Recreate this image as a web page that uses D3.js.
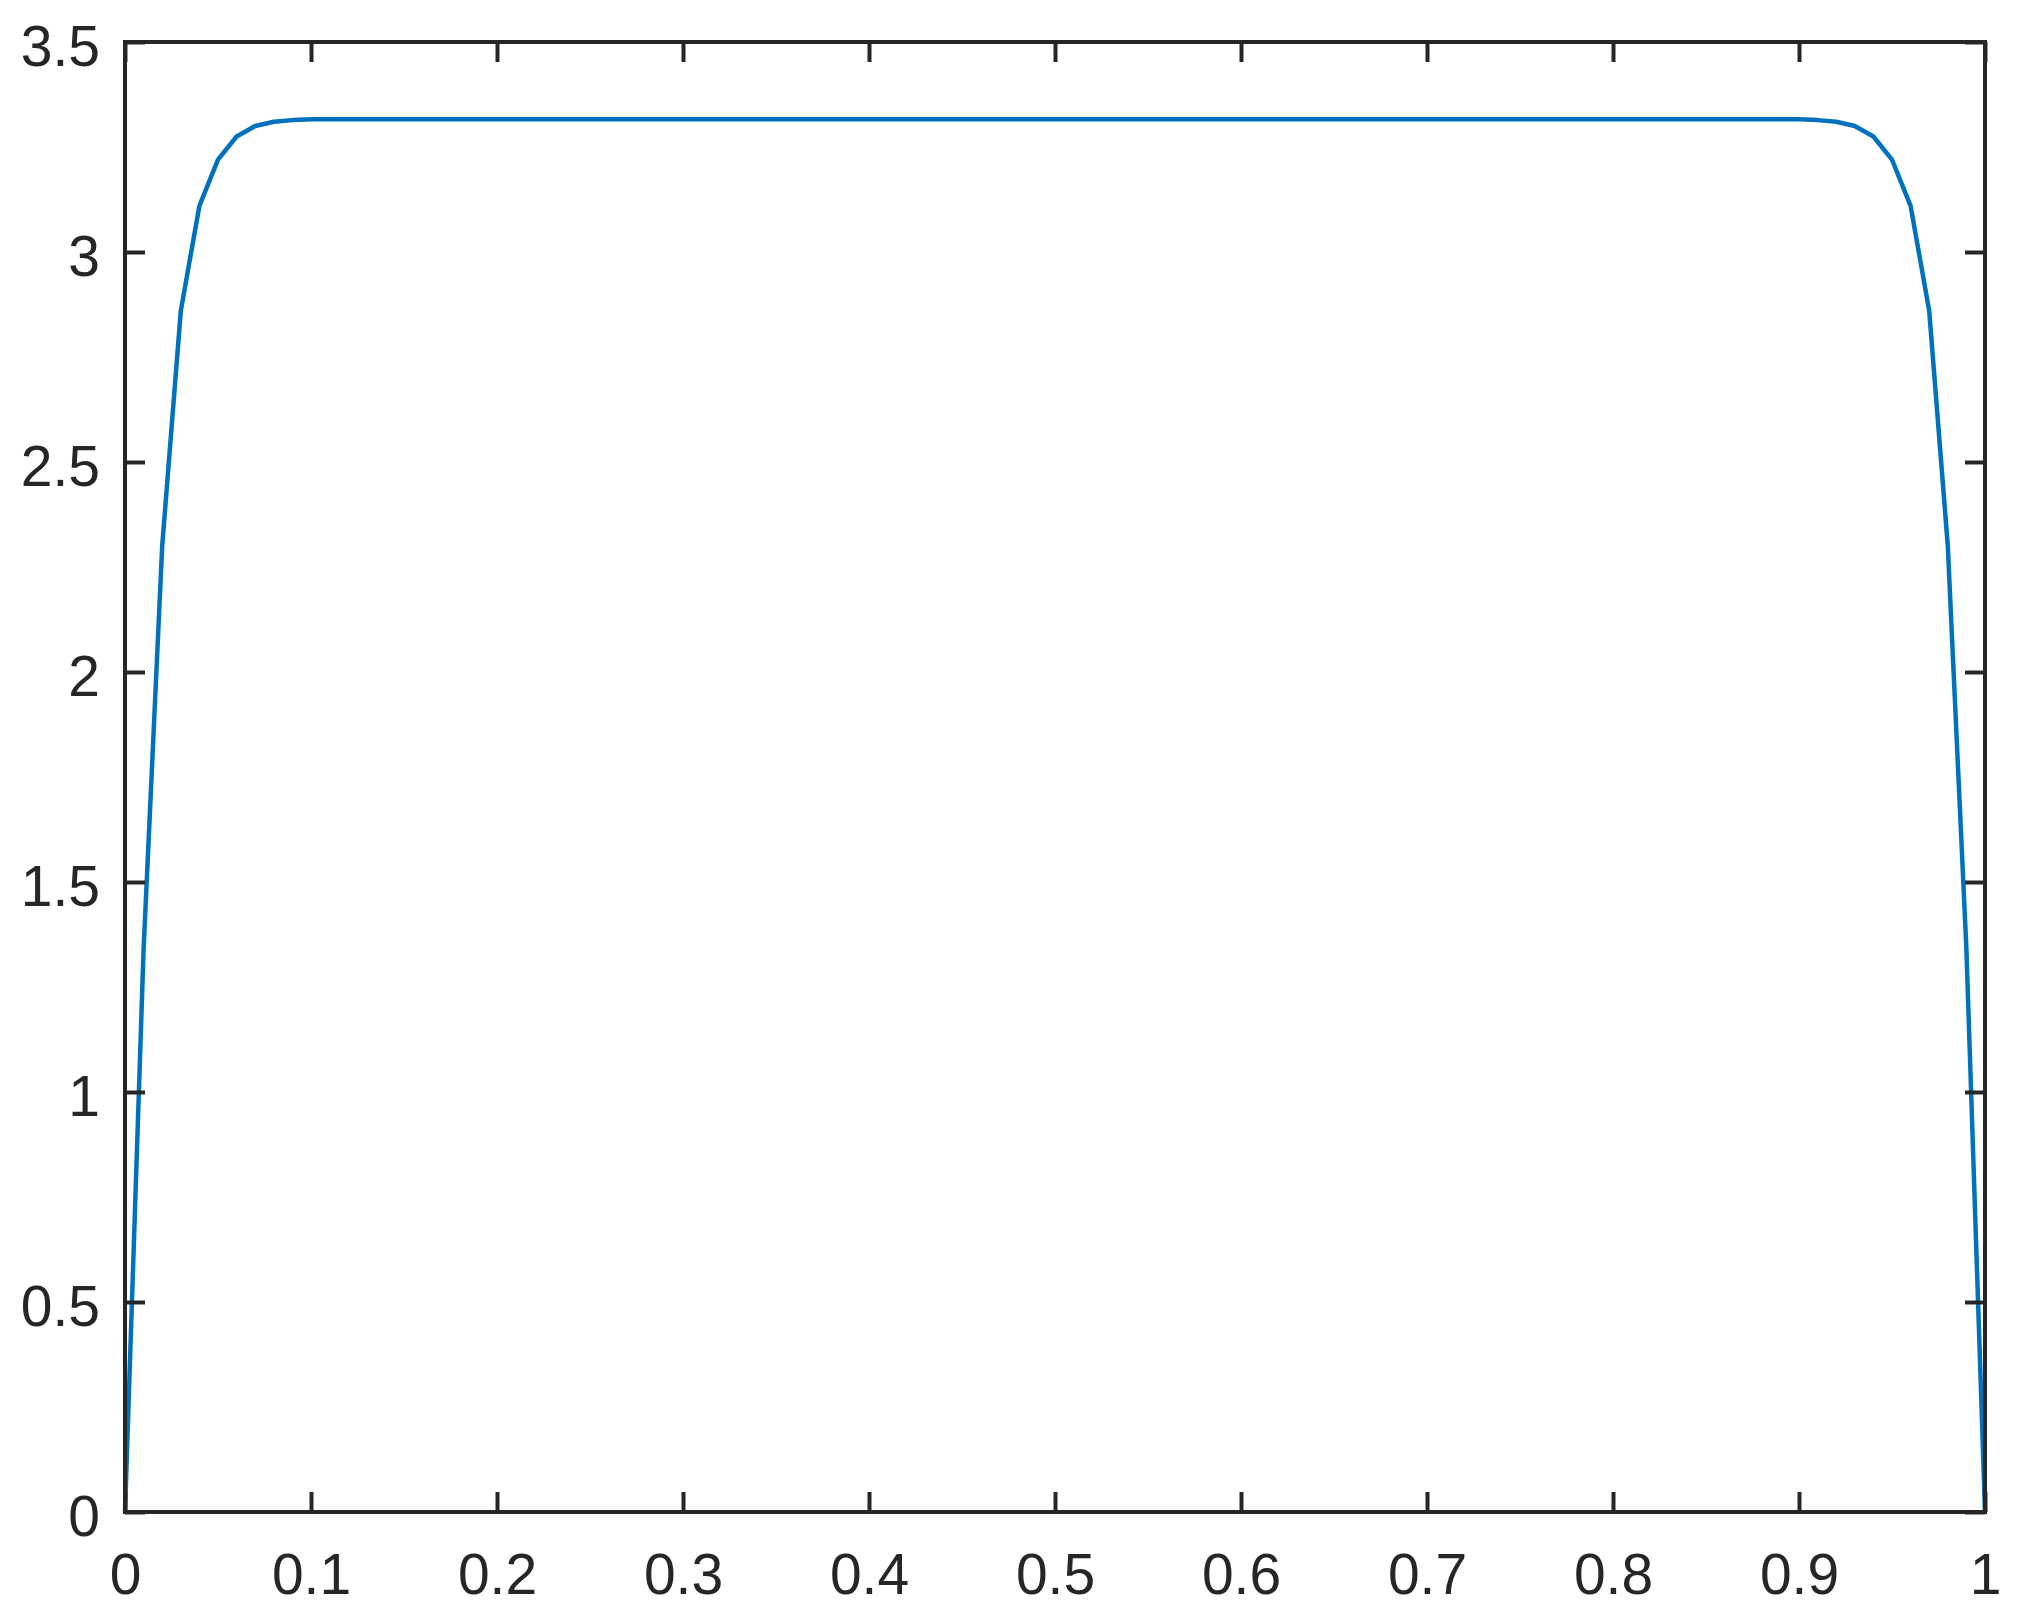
<!DOCTYPE html>
<meta charset="utf-8">
<style>
body { margin: 0; background: #fff; }
.axis text { font-family: "Liberation Sans", Arial, sans-serif; font-size: 57px; fill: #262626; }
.axis line { stroke: #262626; stroke-width: 4px; }
.axis path { display: none; }
.frame { fill: none; stroke: #262626; stroke-width: 4px; }
.curve { fill: none; stroke: #0072bd; stroke-width: 4.5px; stroke-linejoin: round; }
</style>
<svg width="2019" height="1619"></svg>
<script src="https://cdn.jsdelivr.net/npm/d3@7"></script>
<script>

// sample points (plateau between 0.1 and 0.9 is flat)
var xValues = [0, 0.01, 0.02, 0.03, 0.04, 0.05, 0.06, 0.07, 0.08, 0.09, 0.10,
               0.90, 0.91, 0.92, 0.93, 0.94, 0.95, 0.96, 0.97, 0.98, 0.99, 1];
var yValues = [0, 1.34, 2.30, 2.86, 3.11, 3.22, 3.275, 3.30, 3.31, 3.314, 3.316,
               3.316, 3.314, 3.31, 3.30, 3.275, 3.22, 3.11, 2.86, 2.30, 1.34, 0];

var xTicks = [0, 0.1, 0.2, 0.3, 0.4, 0.5, 0.6, 0.7, 0.8, 0.9, 1];
var yTicks = [0, 0.5, 1, 1.5, 2, 2.5, 3, 3.5];

var svg = d3.select("svg"),
    margin = {top: 42, right: 34, bottom: 107, left: 125},
    width = +svg.attr("width") - margin.left - margin.right,
    height = +svg.attr("height") - margin.top - margin.bottom;

var x = d3.scaleLinear().domain([0, 1]).range([0, width]),
    y = d3.scaleLinear().domain([0, 3.5]).range([height, 0]);

var fmt = d3.format("~g");

var g = svg.append("g")
    .attr("transform", "translate(" + margin.left + "," + margin.top + ")");

var data = xValues.map(function(d, i) { return {x: d, y: yValues[i]}; });

g.append("path")
    .datum(data)
    .attr("class", "curve")
    .attr("d", d3.line()
      .x(function(d) { return x(d.x); })
      .y(function(d) { return y(d.y); }));

g.append("g")
    .attr("class", "axis")
    .attr("transform", "translate(0," + height + ")")
    .call(d3.axisBottom(x).tickValues(xTicks).tickFormat(fmt)
      .tickSizeInner(-20).tickSizeOuter(0).tickPadding(42));

g.append("g")
    .attr("class", "axis")
    .call(d3.axisTop(x).tickValues(xTicks).tickFormat("")
      .tickSizeInner(-20).tickSizeOuter(0));

g.append("g")
    .attr("class", "axis")
    .call(d3.axisLeft(y).tickValues(yTicks).tickFormat(fmt)
      .tickSizeInner(-20).tickSizeOuter(0).tickPadding(25))
  .selectAll("text")
    .attr("dy", "0.42em");

g.append("g")
    .attr("class", "axis")
    .attr("transform", "translate(" + width + ",0)")
    .call(d3.axisRight(y).tickValues(yTicks).tickFormat("")
      .tickSizeInner(-20).tickSizeOuter(0));

g.append("rect")
    .attr("class", "frame")
    .attr("width", width)
    .attr("height", height);

</script>
